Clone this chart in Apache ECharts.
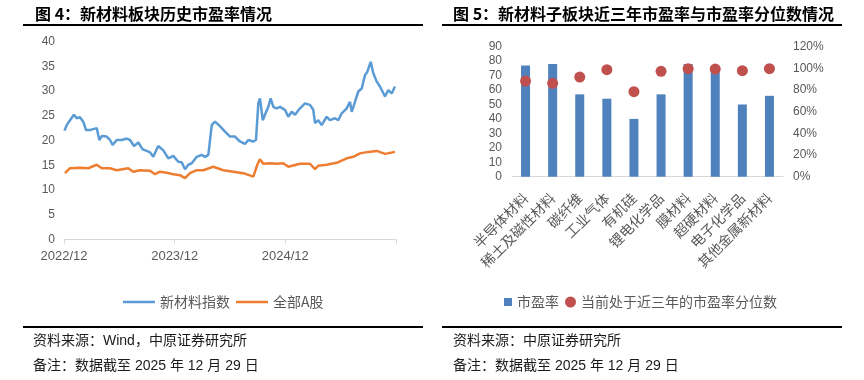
<!DOCTYPE html>
<html>
<head>
<meta charset="utf-8">
<script src="https://cdn.jsdelivr.net/npm/echarts@6/dist/echarts.min.js"></script>
<style>
html,body{margin:0;padding:0;background:#fff;}
#c{width:864px;height:380px;}
</style>
</head>
<body>
<div id="c"></div>
<script>
// ---------- Figure 4: historical PE (months since 2022/12) ----------
const xTickLabels = ['2022/12', '2023/12', '2024/12', ''];
const newMatMonths = [0.05,0.29,0.65,1.08,1.38,1.73,2.09,2.39,2.82,3.15,3.55,3.83,4.09,4.63,4.99,5.28,5.71,6.26,6.80,7.16,7.59,8.06,8.53,8.97,9.33,9.68,10.22,10.77,11.31,11.85,12.39,12.76,13.12,13.48,13.85,14.39,14.93,15.29,15.65,15.83,16.02,16.37,16.91,17.46,18.00,18.54,19.08,19.63,19.98,20.53,20.82,21.07,21.25,21.55,21.79,22.15,22.41,22.70,23.06,23.42,23.96,24.32,24.69,25.05,25.59,26.13,26.67,27.03,27.22,27.57,27.94,28.48,28.84,29.38,29.74,30.11,30.65,31.01,31.20,31.55,31.91,32.28,32.64,32.89,33.26,33.54,33.91,34.26,34.45,34.81,35.16,35.53,35.89];
const newMatPE = [22.0,23.1,24.1,25.2,24.5,24.7,23.8,22.1,22.1,22.3,22.5,20.1,20.9,20.8,20.1,19.1,20.1,20.1,20.4,20.1,18.9,19.6,18.2,17.9,17.6,16.7,18.9,18.0,16.4,16.9,15.7,15.6,14.2,15.1,15.4,16.7,17.1,16.7,17.1,16.7,23.1,23.8,22.9,21.8,20.8,20.8,19.8,19.3,20.1,19.8,20.1,27.5,28.5,24.1,25.2,26.8,28.5,26.8,26.5,26.8,26.2,24.8,25.8,25.2,26.5,27.5,27.2,26.2,23.5,24.1,23.1,24.8,24.1,24.5,24.1,25.5,26.5,27.8,25.8,27.8,29.9,30.5,33.2,33.9,35.9,33.6,31.9,30.9,30.2,28.9,30.2,29.5,30.9];
const allAMonths = [0.11,0.65,1.73,2.63,3.55,4.09,4.99,5.71,6.97,7.51,8.24,9.33,9.87,10.41,11.14,11.85,12.58,13.12,13.66,14.39,15.10,16.19,17.27,18.36,19.44,20.53,20.96,21.25,21.61,22.34,23.06,23.78,24.32,24.51,25.59,26.67,27.22,27.57,28.48,29.57,30.65,31.37,32.09,33.00,33.91,34.81,35.89];
const allAPE = [13.4,14.4,14.5,14.4,15.1,14.4,14.4,14.0,14.4,13.7,14.0,13.9,13.2,13.7,13.5,13.2,13.0,12.4,13.4,14.0,14.0,14.7,14.0,13.7,13.4,12.7,15.1,16.2,15.3,15.4,15.3,15.4,14.7,14.8,15.3,15.3,14.2,14.9,15.1,15.5,16.4,16.7,17.4,17.7,17.9,17.3,17.7];

// ---------- Figure 5: sub-sector PE and percentile ----------
const categories = ['半导体材料','稀土及磁性材料','碳纤维','工业气体','有机硅','锂电化学品','膜材料','超硬材料','电子化学品','其他金属新材料'];
const subPE = [77, 78, 57, 54, 40, 57, 78, 75, 50, 56];
const subPercentile = [0.883, 0.862, 0.920, 0.988, 0.785, 0.973, 0.997, 0.994, 0.979, 0.997];

const LAT = '"Liberation Sans", Arial, "Noto Sans CJK SC", sans-serif';
const CJK = '"Noto Sans CJK SC", "Liberation Sans", sans-serif';
const GRAY = '#595959';

const chart = echarts.init(document.getElementById('c'), null, {renderer: 'canvas'});
chart.setOption({
  animation: false,
  textStyle: {fontFamily: LAT},
  grid: [
    {left: 64, top: 41.5, width: 332, height: 198},
    {left: 512, top: 46.7, width: 271, height: 130}
  ],
  xAxis: [
    {
      type: 'value', gridIndex: 0, min: 0, max: 36, interval: 12,
      axisLine: {show: true, lineStyle: {color: '#d9d9d9', width: 1}},
      axisTick: {show: true, length: 4, lineStyle: {color: '#d9d9d9'}},
      splitLine: {show: false},
      axisLabel: {color: GRAY, fontSize: 13, margin: 10, fontFamily: LAT,
        formatter: function (v) { return xTickLabels[Math.round(v / 12)] || ''; }}
    },
    {
      type: 'category', gridIndex: 1, data: categories,
      axisLine: {show: true, lineStyle: {color: '#d9d9d9', width: 1}},
      axisTick: {show: false},
      axisLabel: {color: GRAY, fontSize: 14, rotate: 45, interval: 0, margin: 19, fontFamily: CJK}
    }
  ],
  yAxis: [
    {
      type: 'value', gridIndex: 0, min: 0, max: 40, interval: 5,
      axisLine: {show: false}, axisTick: {show: false}, splitLine: {show: false},
      axisLabel: {color: GRAY, fontSize: 12, margin: 9, fontFamily: LAT}
    },
    {
      type: 'value', gridIndex: 1, min: 0, max: 90, interval: 10,
      axisLine: {show: false}, axisTick: {show: false}, splitLine: {show: false},
      axisLabel: {color: GRAY, fontSize: 12, margin: 10, fontFamily: LAT}
    },
    {
      type: 'value', gridIndex: 1, position: 'right', min: 0, max: 1.2, interval: 0.2,
      axisLine: {show: false}, axisTick: {show: false}, splitLine: {show: false},
      axisLabel: {color: GRAY, fontSize: 12, margin: 10, fontFamily: LAT,
        formatter: function (v) { return Math.round(v * 100) + '%'; }}
    }
  ],
  legend: [
    {
      data: ['新材料指数', '全部A股'], left: 118, top: 290,
      icon: 'rect', itemWidth: 32, itemHeight: 2.5, itemGap: 6,
      textStyle: {color: GRAY, fontSize: 14, fontFamily: CJK}
    },
    {
      data: ['市盈率'], left: 499, top: 290,
      icon: 'rect', itemWidth: 8, itemHeight: 8, itemGap: 6,
      textStyle: {color: GRAY, fontSize: 14, fontFamily: CJK}
    },
    {
      data: ['当前处于近三年的市盈率分位数'], left: 560, top: 290,
      icon: 'circle', itemWidth: 11, itemHeight: 11, itemGap: 6,
      textStyle: {color: GRAY, fontSize: 14, fontFamily: CJK}
    }
  ],
  series: [
    {
      name: '新材料指数', type: 'line', xAxisIndex: 0, yAxisIndex: 0,
      data: newMatMonths.map(function (m, i) { return [m, newMatPE[i]]; }),
      showSymbol: false, color: '#5b9bd5', lineStyle: {width: 2.5, color: '#5b9bd5'}
    },
    {
      name: '全部A股', type: 'line', xAxisIndex: 0, yAxisIndex: 0,
      data: allAMonths.map(function (m, i) { return [m, allAPE[i]]; }),
      showSymbol: false, color: '#ed7d31', lineStyle: {width: 2.5, color: '#ed7d31'}
    },
    {
      name: '市盈率', type: 'bar', xAxisIndex: 1, yAxisIndex: 1,
      data: subPE, barWidth: 9, color: '#4f81bd', itemStyle: {color: '#4f81bd'}
    },
    {
      name: '当前处于近三年的市盈率分位数', type: 'scatter', xAxisIndex: 1, yAxisIndex: 2,
      data: subPercentile, symbolSize: 11, color: '#c0504d',
      itemStyle: {color: '#c0504d', opacity: 1}, z: 3
    }
  ],
  graphic: [
    {type: 'text', style: {text: '图 4：新材料板块历史市盈率情况', x: 35, y: 13.5, verticalAlign: 'middle', font: 'bold 16px ' + CJK, fill: '#000'}},
    {type: 'text', style: {text: '图 5：新材料子板块近三年市盈率与市盈率分位数情况', x: 453, y: 13.5, verticalAlign: 'middle', font: 'bold 16px ' + CJK, fill: '#000'}},
    {type: 'line', shape: {x1: 23, y1: 25, x2: 423, y2: 25}, style: {stroke: '#000', lineWidth: 2}},
    {type: 'line', shape: {x1: 442, y1: 25, x2: 842, y2: 25}, style: {stroke: '#000', lineWidth: 2}},
    {type: 'line', shape: {x1: 23, y1: 327, x2: 423, y2: 327}, style: {stroke: '#000', lineWidth: 2}},
    {type: 'line', shape: {x1: 442, y1: 327, x2: 842, y2: 327}, style: {stroke: '#000', lineWidth: 2}},
    {type: 'text', style: {text: '资料来源：Wind，中原证券研究所', x: 33, y: 341, verticalAlign: 'middle', font: '14px ' + LAT, fill: '#1a1a1a'}},
    {type: 'text', style: {text: '备注：数据截至 2025 年 12 月 29 日', x: 33, y: 366, verticalAlign: 'middle', font: '14px ' + LAT, fill: '#1a1a1a'}},
    {type: 'text', style: {text: '资料来源：中原证券研究所', x: 453, y: 341, verticalAlign: 'middle', font: '14px ' + LAT, fill: '#1a1a1a'}},
    {type: 'text', style: {text: '备注：数据截至 2025 年 12 月 29 日', x: 453, y: 366, verticalAlign: 'middle', font: '14px ' + LAT, fill: '#1a1a1a'}}
  ]
});
</script>
</body>
</html>
